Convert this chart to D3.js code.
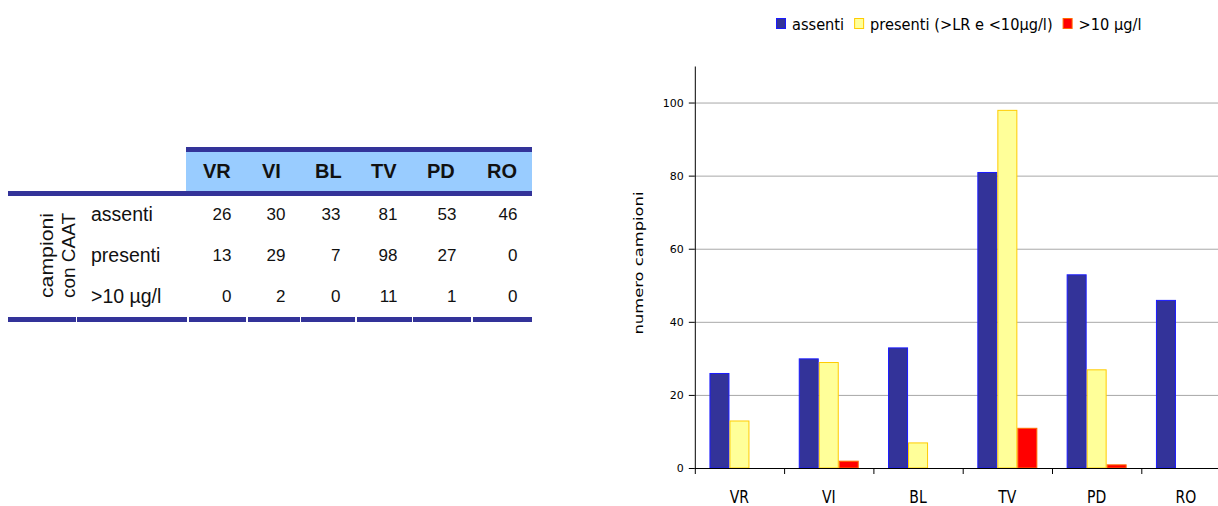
<!DOCTYPE html>
<html>
<head>
<meta charset="utf-8">
<script src="https://cdn.jsdelivr.net/npm/d3@7"></script>
<style>
  html, body { margin: 0; padding: 0; background: #fff; }
  svg { display: block; }
</style>
</head>
<body>
<svg id="page" width="1218" height="506"></svg>
<script>
// Provinces and sample counts per CAAT class
const categories = ["VR", "VI", "BL", "TV", "PD", "RO"];
const assenti = [26, 30, 33, 81, 53, 46];
const presenti = [13, 29, 7, 98, 27, 0];
const oltre10 = [0, 2, 0, 11, 1, 0];

const legendLabels = ["assenti", "presenti (>LR e <10µg/l)", ">10 µg/l"];
const rowLabels = ["assenti", "presenti", ">10 µg/l"];
const sideLabels = ["campioni", "con CAAT"];
const yTicks = [0, 20, 40, 60, 80, 100];
const yTitle = "numero campioni";

const seriesValues = [assenti, presenti, oltre10];
const fills = ["#333399", "#ffff99", "#ff0000"];
const strokes = ["#1a1aff", "#ffcc00", "#ff6a00"];

const svg = d3.select("#page");

/* ---------------- table ---------------- */
const navy = "#333399";
const table = svg.append("g").attr("font-family", "'Liberation Sans', Arial, sans-serif").attr("fill", "#111");

// column segments of the bottom rule: two label columns, then one per province
const labelSegs = [[8, 76], [77, 187]];
const colSegs = [[189, 246], [248, 300], [301, 355], [357, 412], [413, 471], [473, 532]];

table.append("rect").attr("x", 186).attr("y", 147).attr("width", 346).attr("height", 5).attr("fill", navy);
table.append("rect").attr("x", 186).attr("y", 152).attr("width", 346).attr("height", 39).attr("fill", "#99ccff");
table.append("rect").attr("x", 8).attr("y", 191).attr("width", 524).attr("height", 5).attr("fill", navy);

table.selectAll("rect.seg")
  .data(labelSegs.concat(colSegs))
  .join("rect")
  .attr("class", "seg")
  .attr("x", d => d[0]).attr("y", 317)
  .attr("width", d => d[1] - d[0]).attr("height", 5)
  .attr("fill", navy);

table.selectAll("text.head")
  .data(categories)
  .join("text")
  .attr("class", "head")
  .attr("x", (d, i) => colSegs[i][0] + 14)
  .attr("y", 178)
  .attr("font-size", 20).attr("font-weight", "bold")
  .text(d => d);

const rowY = [221, 262, 303];
table.selectAll("text.rowlab")
  .data(rowLabels)
  .join("text")
  .attr("class", "rowlab")
  .attr("x", 91)
  .attr("y", (d, i) => rowY[i])
  .attr("font-size", 19.5)
  .text(d => d);

seriesValues.forEach((vals, r) => {
  table.selectAll("text.v" + r)
    .data(vals)
    .join("text")
    .attr("class", "v" + r)
    .attr("x", (d, i) => colSegs[i][1] - 14.5)
    .attr("y", rowY[r] - 1)
    .attr("text-anchor", "end")
    .attr("font-size", 17)
    .text(d => d);
});

const sideX = [53, 75];
table.selectAll("text.side")
  .data(sideLabels)
  .join("text")
  .attr("class", "side")
  .attr("transform", (d, i) => `translate(${sideX[i]},255.5) rotate(-90)`)
  .attr("text-anchor", "middle")
  .attr("font-size", 18)
  .attr("textLength", 85)
  .attr("lengthAdjust", "spacingAndGlyphs")
  .text(d => d);

/* ---------------- bar chart ---------------- */
const chartFont = "'DejaVu Sans', Verdana, sans-serif";
const chart = svg.append("g").attr("font-family", chartFont).attr("fill", "#000");

const x0 = 694.8, bandW = 89.3;
const x = d3.scaleBand().domain(categories).range([x0, x0 + bandW * categories.length]).padding(0);
const xs = d3.scaleBand().domain(d3.range(seriesValues.length)).range([14.65, 74.65]).padding(0);
const y = d3.scaleLinear().domain([0, 110]).range([468, 66]);

// horizontal gridlines
chart.append("g").selectAll("line")
  .data(yTicks.filter(t => t > 0))
  .join("line")
  .attr("x1", x0).attr("x2", 1218)
  .attr("y1", d => y(d) + 0.5).attr("y2", d => y(d) + 0.5)
  .attr("stroke", "#a8a8a8").attr("stroke-width", 1);

// bars
seriesValues.forEach((vals, s) => {
  chart.append("g").selectAll("rect")
    .data(vals.map((v, i) => ({ cat: categories[i], v })).filter(d => d.v > 0))
    .join("rect")
    .attr("x", d => x(d.cat) + xs(s) + 0.5)
    .attr("y", d => y(d.v) + 0.5)
    .attr("width", xs.bandwidth() - 1)
    .attr("height", d => y(0) - y(d.v) - 0.5)
    .attr("fill", fills[s])
    .attr("stroke", strokes[s])
    .attr("stroke-width", 1);
});

// y axis
const yAxis = chart.append("g")
  .attr("transform", `translate(${x0},0)`)
  .call(d3.axisLeft(y).tickValues(yTicks).tickSize(6).tickSizeOuter(0).tickPadding(5));
yAxis.select(".domain").attr("stroke", "#000");
yAxis.selectAll(".tick line").attr("stroke", "#000");
yAxis.selectAll(".tick text").attr("font-size", 11).attr("fill", "#000").attr("font-family", chartFont);

// x axis: baseline, boundary ticks and centred labels
const xAxis = chart.append("g").attr("transform", `translate(0,${y(0)})`);
xAxis.append("line").attr("x1", x0).attr("x2", 1218).attr("y1", 0.5).attr("y2", 0.5).attr("stroke", "#000");
xAxis.selectAll("line.tk")
  .data(categories)
  .join("line")
  .attr("class", "tk")
  .attr("x1", d => x(d) + 0.5).attr("x2", d => x(d) + 0.5)
  .attr("y1", 0).attr("y2", 6)
  .attr("stroke", "#000");
xAxis.selectAll("text")
  .data(categories)
  .join("text")
  .attr("transform", d => `translate(${x(d) + x.bandwidth() / 2},35) scale(1,1.2)`)
  .attr("text-anchor", "middle")
  .attr("font-size", 14)
  .text(d => d);

// y title
chart.append("text")
  .attr("transform", `translate(643,263) rotate(-90)`)
  .attr("text-anchor", "middle")
  .attr("font-size", 13)
  .attr("textLength", 143)
  .attr("lengthAdjust", "spacingAndGlyphs")
  .text(yTitle);

// legend
const legend = chart.append("g");
let lx = 776;
legendLabels.forEach((lab, i) => {
  legend.append("rect")
    .attr("x", lx + 0.5).attr("y", 18.5)
    .attr("width", 9).attr("height", 10)
    .attr("fill", fills[i]).attr("stroke", strokes[i]);
  const t = legend.append("text")
    .attr("transform", `translate(${lx + 16},30) scale(1,1.1)`)
    .attr("font-size", 14.6)
    .text(lab);
  lx = lx + 16 + t.node().getComputedTextLength() + 10;
});
</script>
</body>
</html>
